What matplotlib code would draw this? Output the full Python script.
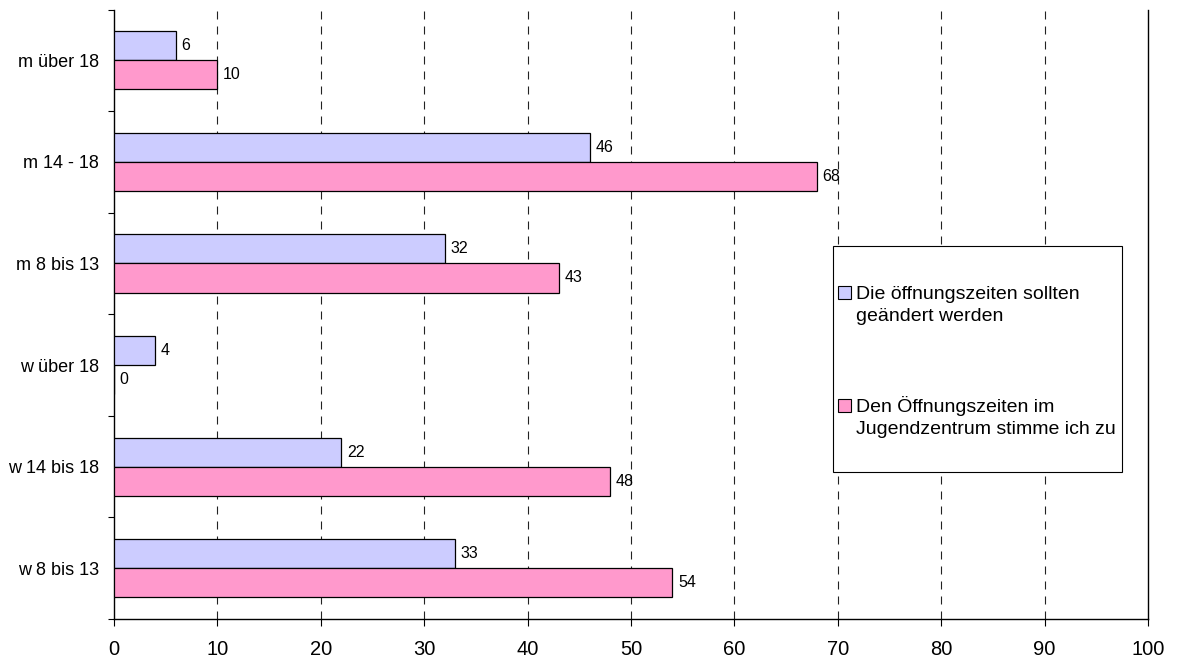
import numpy as np
import matplotlib
matplotlib.use("Agg")
import matplotlib.pyplot as plt
from matplotlib.patches import Rectangle

plt.rcParams['font.family'] = ['Liberation Sans', 'DejaVu Sans']

# Daten (von unten nach oben)
kategorien = ["w 8 bis 13", "w 14 bis 18", "w über 18",
              "m 8 bis 13", "m 14 - 18", "m über 18"]
geaendert = [33, 22, 4, 32, 46, 6]
zustimmung = [54, 48, 0, 43, 68, 10]

label_geaendert = ["Die öffnungszeiten sollten", "geändert werden"]
label_zustimmung = ["Den Öffnungszeiten im", "Jugendzentrum stimme ich zu"]

farbe_geaendert = '#CCCCFF'
farbe_zustimmung = '#FF99CC'

W, H = 1178, 660
ax_l, ax_r, ax_t, ax_b = 114, 1148, 9.5, 619

fig = plt.figure(figsize=(W / 100, H / 100), dpi=100)
ax = fig.add_axes([ax_l / W, (H - ax_b) / H, (ax_r - ax_l) / W, (ax_b - ax_t) / H])

y = np.arange(len(kategorien))
h = 0.286
b1 = ax.barh(y + h / 2, geaendert, height=h, color=farbe_geaendert,
             edgecolor='black', linewidth=0.9, zorder=3)
b2 = ax.barh(y - h / 2, zustimmung, height=h, color=farbe_zustimmung,
             edgecolor='black', linewidth=0.9, zorder=3)
ax.bar_label(b1, padding=4, fontsize=11.5)
ax.bar_label(b2, padding=4, fontsize=11.5)

ax.set_xlim(0, 100)
ax.set_ylim(-0.5, len(kategorien) - 0.5)
ax.set_xticks(np.arange(0, 101, 10))
ax.set_yticks(y)
ax.set_yticklabels(kategorien)
ax.set_yticks(np.arange(-0.5, len(kategorien), 1), minor=True)

ax.tick_params(axis='x', direction='out', length=5, width=0.8, pad=10, labelsize=14.5)
ax.tick_params(axis='y', which='major', length=0, pad=11, labelsize=13)
ax.tick_params(axis='y', which='minor', direction='out', length=4, width=0.8)

# gestrichelte Gitterlinien
for xv in np.arange(10, 100, 10):
    ax.axvline(xv, color='#222222', linewidth=0.8, dashes=(7.2, 6.3), zorder=1)

ax.spines['top'].set_visible(False)
for s in ['left', 'bottom', 'right']:
    ax.spines[s].set_linewidth(1.0)

# Legende (manuell, wie im Original)
def frac(px, py):
    return ((px - ax_l) / (ax_r - ax_l), (ax_b - py) / (ax_b - ax_t))

def size(pw, ph):
    return (pw / (ax_r - ax_l), ph / (ax_b - ax_t))

x0, y0 = frac(833, 472)
w, hh = size(289, 226)
ax.add_patch(Rectangle((x0, y0), w, hh, transform=ax.transAxes, facecolor='white',
                       edgecolor='black', linewidth=0.8, zorder=5, clip_on=False))

for farbe, zeilen, sq_y, base in [(farbe_geaendert, label_geaendert, 299, 299.3),
                                  (farbe_zustimmung, label_zustimmung, 412, 412.3)]:
    sx, sy = frac(838, sq_y)
    sw, sh = size(13, 13)
    ax.add_patch(Rectangle((sx, sy), sw, sh, transform=ax.transAxes, facecolor=farbe,
                           edgecolor='black', linewidth=0.8, zorder=6, clip_on=False))
    for k, zeile in enumerate(zeilen):
        tx, ty = frac(856, base + k * 21.5)
        ax.text(tx, ty, zeile, transform=ax.transAxes, fontsize=14,
                va='baseline', ha='left', zorder=7)

fig.savefig('out.png', dpi=100)
